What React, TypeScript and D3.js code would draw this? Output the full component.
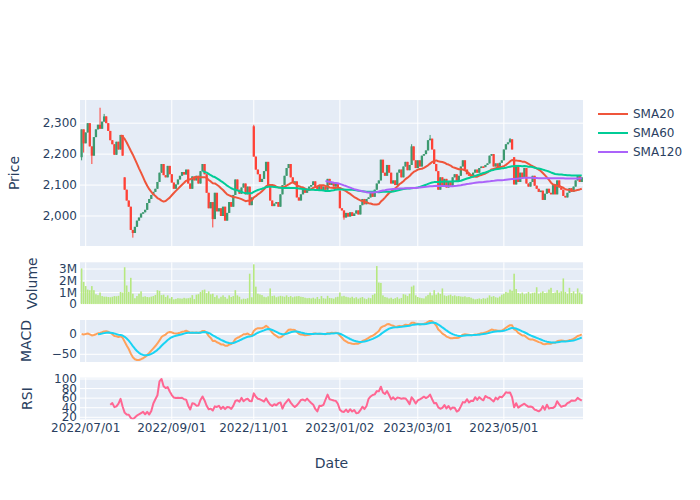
import React from 'react';
import * as d3 from 'd3';

// Trading calendar: weekdays from the first session, minus exchange holidays
const firstSession = '2022-06-29';
const holidays = [
  '2022-07-18', '2022-08-11', '2022-09-19', '2022-09-23', '2022-10-10', '2022-11-03', '2022-11-23',
  '2023-01-02', '2023-01-03', '2023-01-09', '2023-02-23', '2023-03-21', '2023-05-03', '2023-05-04', '2023-05-05',
];

// Daily closes
const closes = [
  2280, 2235, 2270, 2300, 2225, 2195, 2255, 2280, 2295, 2282,
  2305, 2322, 2300, 2275, 2245, 2232, 2198, 2240, 2215, 2262,
  2195, 2085, 2050, 2030, 1955, 1945, 1965, 1985, 1995, 2008,
  2012, 2020, 2042, 2055, 2068, 2078, 2088, 2110, 2140, 2168,
  2132, 2125, 2162, 2135, 2108, 2088, 2102, 2118, 2130, 2142,
  2134, 2150, 2105, 2088, 2128, 2115, 2130, 2105, 2145, 2168,
  2135, 2075, 2025, 2045, 1990, 2075, 2015, 2025, 2000, 2030,
  1985, 2010, 2045, 2030, 2068, 2118, 2085, 2072, 2092, 2105,
  2070, 2095, 2035, 2060, 2192, 2150, 2135, 2110, 2120, 2145,
  2175, 2095, 2050, 2032, 2040, 2045, 2030, 2070, 2100, 2130,
  2155, 2168, 2125, 2108, 2112, 2060, 2050, 2070, 2085, 2075,
  2088, 2095, 2100, 2112, 2095, 2085, 2100, 2082, 2095, 2085,
  2120, 2100, 2110, 2095, 2105, 2088, 2025, 2018, 1995, 2010,
  1998, 2012, 2000, 2008, 2018, 2005, 2035, 2055, 2038, 2055,
  2060, 2075, 2062, 2085, 2105, 2115, 2182, 2140, 2130, 2165,
  2140, 2105, 2115, 2100, 2140, 2150, 2125, 2160, 2175, 2148,
  2165, 2225, 2180, 2155, 2180, 2160, 2195, 2200, 2212, 2245,
  2250, 2215, 2168, 2145, 2085, 2125, 2100, 2120, 2092, 2110,
  2098, 2125, 2135, 2110, 2130, 2160, 2180, 2150, 2135, 2130,
  2125, 2140, 2150, 2140, 2155, 2160, 2158, 2165, 2170, 2195,
  2200, 2160, 2170, 2155, 2172, 2180, 2215, 2232, 2238, 2248,
  2215, 2102, 2165, 2110, 2140, 2125, 2155, 2105, 2095, 2110,
  2130, 2098, 2088, 2078, 2082, 2052, 2072, 2088, 2075, 2070,
  2100, 2070, 2115, 2092, 2085, 2065, 2060, 2075, 2090, 2078,
  2095, 2115, 2130, 2110, 2125,
];

// Sessions that did not open at the previous close: [index, open]
const gapOpens: [number, number][] = [[0, 2190], [21, 2125], [84, 2290], [126, 2082], [211, 2190]];
// Visible long wicks: [index, price]
const wickHighs: [number, number][] = [[9, 2350], [11, 2330], [84, 2295], [161, 2232], [170, 2262], [209, 2252]];
const wickLows: [number, number][] = [[0, 2180], [1, 2205], [5, 2168], [25, 1930], [64, 1963], [128, 1988]];

// Daily volume, thousands of shares
const volumeK = [
  3050, 1900, 1550, 1250, 1200, 1550, 1200, 850, 780, 1000,
  700, 650, 650, 620, 600, 640, 700, 680, 720, 1050,
  1000, 3150, 1600, 1050, 2250, 900, 520, 700, 900, 1100,
  640, 680, 620, 600, 650, 700, 800, 1200, 1150, 780,
  820, 620, 760, 500, 620, 420, 460, 520, 500, 480,
  550, 500, 520, 560, 780, 440, 820, 860, 1050, 1200,
  1250, 950, 1100, 850, 900, 620, 760, 500, 640, 760,
  620, 480, 760, 620, 700, 1200, 760, 640, 420, 480,
  460, 520, 2600, 600, 3400, 1500, 900, 840, 780, 640,
  600, 680, 1350, 700, 740, 600, 660, 720, 680, 640,
  760, 620, 700, 600, 660, 680, 700, 640, 620, 560,
  520, 540, 500, 560, 480, 620, 460, 700, 520, 480,
  720, 540, 520, 480, 600, 640, 1000, 680, 720, 640,
  600, 560, 640, 520, 600, 480, 560, 620, 500, 440,
  560, 520, 800, 900, 3250, 1850, 1820, 760, 620, 580,
  500, 560, 460, 520, 600, 480, 540, 860, 820, 700,
  900, 1500, 1600, 760, 620, 560, 520, 500, 680, 800,
  1000, 760, 1200, 820, 1000, 880, 1350, 760, 700, 760,
  820, 700, 760, 680, 700, 660, 640, 680, 600, 620,
  560, 480, 420, 460, 500, 440, 520, 480, 560, 760,
  640, 700, 600, 560, 660, 820, 900, 1050, 1000, 1250,
  1150, 2600, 1300, 960, 900, 1000, 860, 920, 1050, 900,
  980, 1000, 1450, 900, 1000, 1100, 960, 1000, 1250, 1400,
  960, 1000, 1200, 1000, 1100, 2200, 1050, 900, 1400, 960,
  1100, 900, 1350, 1000, 850,
];

const tickDates = ['2022-07-01', '2022-09-01', '2022-11-01', '2023-01-02', '2023-03-01', '2023-05-01'];
const tickLabels = ['2022/07/01', '2022/09/01', '2022/11/01', '2023/01/02', '2023/03/01', '2023/05/01'];
const priceTicks = [2000, 2100, 2200, 2300];
const volumeTicks = [0, 1e6, 2e6, 3e6];
const volumeTickLabels = ['0', '1M', '2M', '3M'];
const macdTicks = [-50, 0];
const macdTickLabels = ['\u221250', '0'];
const rsiTicks = [20, 40, 60, 80, 100];

const smaSeries = [
  { name: 'SMA20', window: 20, color: '#EF553B' },
  { name: 'SMA60', window: 60, color: '#00CC96' },
  { name: 'SMA120', window: 120, color: '#AB63FA' },
];

// ---- indicators -------------------------------------------------------
const sma = (v: number[], n: number) =>
  v.map((_, i) => (i < n - 1 ? null : d3.mean(v.slice(i - n + 1, i + 1)) as number));

// weighted EMA over all history so far (pandas ewm adjust=True)
const ema = (v: number[], span: number) => {
  const k = 1 - 2 / (span + 1);
  let num = 0;
  let den = 0;
  return v.map((d) => {
    num = d + k * num;
    den = 1 + k * den;
    return num / den;
  });
};

const rsi = (v: number[], n: number) => {
  const gain = v.map((d, i) => (i === 0 ? 0 : Math.max(d - v[i - 1], 0)));
  const loss = v.map((d, i) => (i === 0 ? 0 : Math.max(v[i - 1] - d, 0)));
  return v.map((_, i) => {
    if (i < n) return null;
    const g = d3.mean(gain.slice(i - n + 1, i + 1)) as number;
    const l = d3.mean(loss.slice(i - n + 1, i + 1)) as number;
    return l === 0 ? 100 : 100 - 100 / (1 + g / l);
  });
};

const fmt = d3.timeFormat('%Y-%m-%d');
const sessions: Date[] = [];
for (let d = d3.timeParse('%Y-%m-%d')(firstSession) as Date; sessions.length < closes.length; d = d3.timeDay.offset(d, 1)) {
  const wd = d.getDay();
  if (wd === 0 || wd === 6 || holidays.includes(fmt(d))) continue;
  sessions.push(d);
}

const gapMap = new Map(gapOpens);
const highMap = new Map(wickHighs);
const lowMap = new Map(wickLows);
const candles = closes.map((c, i) => {
  const o = gapMap.get(i) ?? (i === 0 ? c : closes[i - 1]);
  return {
    i, o, c,
    h: highMap.get(i) ?? Math.max(o, c),
    l: lowMap.get(i) ?? Math.min(o, c),
  };
});

const macdLine = (() => {
  const e12 = ema(closes, 12);
  const e26 = ema(closes, 26);
  return e12.map((d, i) => d - e26[i]);
})();
const signalLine = ema(macdLine, 9).map((d, i) => (i < 8 ? null : d));
const rsiLine = rsi(closes, 14);

// ---- layout -----------------------------------------------------------
const W = 700;
const H = 500;
const left = 80;
const right = 583;
const panels = {
  price: [100, 246],
  volume: [262.3, 304.3],
  macd: [320, 362],
  rsi: [377.7, 419.3],
};
const textColor = '#2a3f5f';
const font = '"DejaVu Sans", Verdana, sans-serif';

const x = d3.scaleLinear().domain([-0.78, closes.length - 0.4]).range([left, right]);
const yPrice = d3.scaleLinear().domain([1903, 2375]).range([panels.price[1], panels.price[0]]);
const yVol = d3.scaleLinear().domain([0, 3.57e6]).range([panels.volume[1], panels.volume[0]]);
const yMacd = d3.scaleLinear().domain([-69, 34.5]).range([panels.macd[1], panels.macd[0]]);
const yRsi = d3.scaleLinear().domain([15.8, 102.7]).range([panels.rsi[1], panels.rsi[0]]);

const tickIdx = tickDates.map((t) => {
  const dt = d3.timeParse('%Y-%m-%d')(t) as Date;
  return sessions.findIndex((s) => s >= dt);
});

const pathFor = (vals: (number | null)[], y: d3.ScaleLinear<number, number>) =>
  d3.line<number | null>()
    .defined((d) => d != null)
    .x((_, i) => x(i))
    .y((d) => y(d as number))(vals) as string;

interface PanelProps {
  id: string;
  range: number[];
  y: d3.ScaleLinear<number, number>;
  ticks: number[];
  labels: string[];
  zero?: boolean;
  children?: React.ReactNode;
}

const Panel: React.FC<PanelProps> = ({ id, range, y, ticks, labels, zero, children }) => (
  <g>
    <clipPath id={id}>
      <rect x={left} y={range[0]} width={right - left} height={range[1] - range[0]} />
    </clipPath>
    <rect x={left} y={range[0]} width={right - left} height={range[1] - range[0]} fill="#E5ECF6" />
    {tickIdx.map((t, k) => (
      <line key={k} x1={x(t)} x2={x(t)} y1={range[0]} y2={range[1]} stroke="#fff" strokeWidth={1} />
    ))}
    {ticks.map((t) => (
      <line key={t} x1={left} x2={right} y1={y(t)} y2={y(t)} stroke="#fff"
        strokeWidth={zero && t === 0 ? 2 : 1} />
    ))}
    {ticks.map((t, k) => (
      <text key={t} x={77} y={y(t)} textAnchor="end" dominantBaseline="central"
        fontSize={12} fill={textColor} fontFamily={font}>{labels[k]}</text>
    ))}
    <g clipPath={`url(#${id})`}>{children}</g>
  </g>
);

const AxisTitle = ({ cx, cy, text, rotate }: { cx: number; cy: number; text: string; rotate?: boolean }) => (
  <text x={cx} y={cy} transform={rotate ? `rotate(-90 ${cx} ${cy})` : undefined}
    textAnchor="middle" dominantBaseline="central" fontSize={14} fill={textColor} fontFamily={font}>
    {text}
  </text>
);

export default function App() {
  const bodyW = 2.3;
  const barW = 1.6;
  return (
    <svg width={W} height={H} style={{ position: 'absolute', left: 0, top: 0, background: '#fff' }}>
      <Panel id="clip-price" range={panels.price} y={yPrice} ticks={priceTicks}
        labels={priceTicks.map((d) => d3.format(',')(d))}>
        {candles.map((d) => {
          const color = d.c >= d.o ? '#3D9970' : '#FF4136';
          const top = yPrice(Math.max(d.o, d.c));
          const h = Math.max(1.5, Math.abs(yPrice(d.o) - yPrice(d.c)));
          return (
            <g key={d.i}>
              <line x1={x(d.i)} x2={x(d.i)} y1={yPrice(d.h)} y2={yPrice(d.l)} stroke={color} strokeWidth={1} />
              <rect x={x(d.i) - bodyW / 2} y={top} width={bodyW} height={h} fill={color} />
            </g>
          );
        })}
        {smaSeries.map((s) => (
          <path key={s.name} d={pathFor(sma(closes, s.window), yPrice)} fill="none"
            stroke={s.color} strokeWidth={2} strokeLinejoin="round" />
        ))}
      </Panel>

      <Panel id="clip-vol" range={panels.volume} y={yVol} ticks={volumeTicks} labels={volumeTickLabels} zero>
        {volumeK.map((v, i) => (
          <rect key={i} x={x(i) - barW / 2} y={yVol(v * 1000)} width={barW}
            height={yVol(0) - yVol(v * 1000)} fill="#B6E880" />
        ))}
      </Panel>

      <Panel id="clip-macd" range={panels.macd} y={yMacd} ticks={macdTicks} labels={macdTickLabels} zero>
        <path d={pathFor(macdLine, yMacd)} fill="none" stroke="#FFA15A" strokeWidth={2} strokeLinejoin="round" />
        <path d={pathFor(signalLine, yMacd)} fill="none" stroke="#19D3F3" strokeWidth={2} strokeLinejoin="round" />
      </Panel>

      <Panel id="clip-rsi" range={panels.rsi} y={yRsi} ticks={rsiTicks} labels={rsiTicks.map(String)}>
        <path d={pathFor(rsiLine, yRsi)} fill="none" stroke="#FF6692" strokeWidth={2} strokeLinejoin="round" />
      </Panel>

      {tickIdx.map((t, k) => (
        <text key={k} x={x(t)} y={428} textAnchor="middle" dominantBaseline="central"
          fontSize={12} fill={textColor} fontFamily={font}>{tickLabels[k]}</text>
      ))}

      <AxisTitle cx={14} cy={173} text="Price" rotate />
      <AxisTitle cx={32} cy={283.3} text="Volume" rotate />
      <AxisTitle cx={25.5} cy={341} text="MACD" rotate />
      <AxisTitle cx={27} cy={398.5} text="RSI" rotate />
      <AxisTitle cx={331.5} cy={462.5} text="Date" />

      {smaSeries.map((s, k) => (
        <g key={s.name} transform={`translate(0, ${114 + k * 19})`}>
          <line x1={598} x2={628} y1={0} y2={0} stroke={s.color} strokeWidth={2} />
          <text x={633} y={0} dominantBaseline="central" fontSize={12} fill={textColor} fontFamily={font}>{s.name}</text>
        </g>
      ))}
    </svg>
  );
}
